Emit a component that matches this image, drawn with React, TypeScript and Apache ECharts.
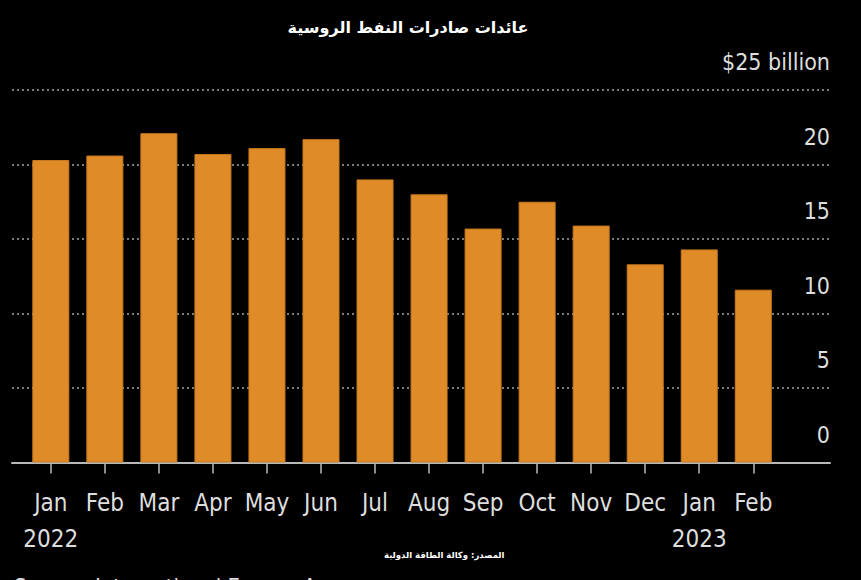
import React, { useEffect, useRef } from "react";
import * as echarts from "echarts";

const months = ["Jan\n2022", "Feb", "Mar", "Apr", "May", "Jun", "Jul", "Aug", "Sep", "Oct", "Nov", "Dec", "Jan\n2023", "Feb"];
const revenue = [20.3, 20.6, 22.1, 20.7, 21.1, 21.7, 19.0, 18.0, 15.7, 17.5, 15.9, 13.3, 14.3, 11.6];
const yMin = 0;
const yMax = 25;
const yStep = 5;
const titleText = "عائدات صادرات النفط الروسية";
const sourceArabic = "المصدر: وكالة الطاقة الدولية";
const sourceEnglish = "Source: International Energy Agency";

const FONT = '"DejaVu Sans Condensed", "Roboto Condensed", "Roboto", sans-serif';

export default function App() {
  const ref = useRef<HTMLDivElement>(null);
  useEffect(() => {
    if (!ref.current) return;
    const chart = echarts.init(ref.current, null, { renderer: "svg" });
    const gridTop = 90;
    const gridBottom = 580 - 462.5;
    chart.setOption({
      animation: false,
      backgroundColor: "#000000",
      title: {
        text: titleText,
        left: 403,
        top: 14,
        textAlign: "center",
        textStyle: { color: "#ffffff", fontSize: 16, fontWeight: "bold", fontFamily: "DejaVu Sans, sans-serif" },
      },
      graphic: [
        {
          type: "text",
          left: 384,
          top: 550,
          style: { text: sourceArabic, fill: "#ffffff", fontSize: 8.5, fontWeight: "bold", fontFamily: "DejaVu Sans, sans-serif" },
        },
        {
          type: "text",
          left: 14,
          top: 575,
          style: { text: sourceEnglish, fill: "#dddddd", fontSize: 22, fontFamily: FONT },
        },
      ],
      grid: [
        { left: 12, right: 31, top: gridTop, bottom: gridBottom },
        { left: 23.8, width: 756.5, top: gridTop, bottom: gridBottom },
      ],
      xAxis: [
        {
          gridIndex: 0,
          type: "value",
          min: 0,
          max: 1,
          axisLine: { show: true, onZero: false, lineStyle: { color: "#b8b8b8", width: 2 } },
          axisTick: { show: false },
          axisLabel: { show: false },
          splitLine: { show: false },
        },
        {
          gridIndex: 1,
          type: "category",
          data: months,
          axisLine: { show: false },
          axisTick: { show: true, alignWithLabel: true, length: 11, lineStyle: { color: "#b8b8b8", width: 1.5 } },
          axisLabel: {
            interval: 0,
            color: "#dedede",
            fontSize: 24,
            lineHeight: 36,
            margin: 22,
            fontFamily: FONT,
          },
          splitLine: { show: false },
        },
      ],
      yAxis: [
        {
          gridIndex: 0,
          type: "value",
          min: yMin,
          max: yMax,
          interval: yStep,
          position: "right",
          axisLine: { show: false },
          axisTick: { show: false },
          axisLabel: {
            inside: true,
            margin: 0,
            color: "#dedede",
            fontSize: 23,
            fontFamily: FONT,
            verticalAlign: "bottom",
            lineHeight: 26,
            padding: [0, 0, 15, 0],
            formatter: (v: number) => (v === yMax ? "$" + v + " billion" : String(v)),
          },
          splitLine: { show: true, lineStyle: { color: "#7c7c7c", width: 2, type: [2, 3] } },
        },
        {
          gridIndex: 1,
          type: "value",
          min: yMin,
          max: yMax,
          show: false,
          splitLine: { show: false },
        },
      ],
      series: [
        {
          type: "bar",
          xAxisIndex: 1,
          yAxisIndex: 1,
          data: revenue,
          barWidth: 37,
          itemStyle: { color: "#df8b27", borderColor: "#c87a1f", borderWidth: 1 },
        },
      ],
    });
    return () => chart.dispose();
  }, []);
  return <div ref={ref} style={{ position: "fixed", left: 0, top: 0, width: 861, height: 580 }} />;
}
